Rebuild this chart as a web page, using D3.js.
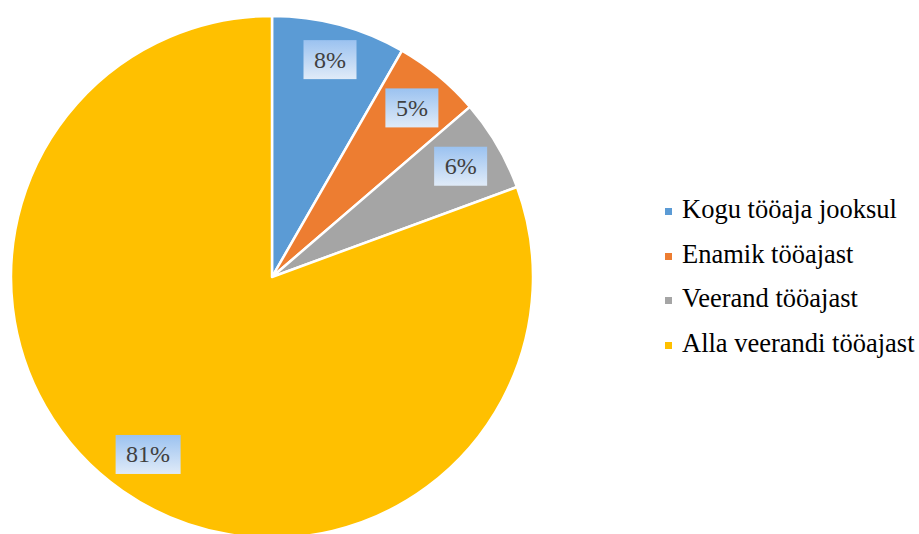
<!DOCTYPE html>
<html>
<head>
<meta charset="utf-8">
<script src="https://cdn.jsdelivr.net/npm/d3@7"></script>
<style>
  html, body { margin: 0; padding: 0; background: #fff; }
  svg { display: block; }
  text { font-family: "Liberation Serif", "Times New Roman", "DejaVu Serif", serif; }
</style>
</head>
<body>
<svg id="chart" width="919" height="534"></svg>
<script>
const categories = ["Kogu tööaja jooksul", "Enamik tööajast", "Veerand tööajast", "Alla veerandi tööajast"];
const values = [8.3, 5.4, 5.7, 80.6];
const labels = ["8%", "5%", "6%", "81%"];
const colors = ["#5B9BD5", "#ED7D31", "#A5A5A5", "#FFC000"];

const svg = d3.select("#chart");
const cx = 272, cy = 277, R = 261;

const defs = svg.append("defs");
const grad = defs.append("linearGradient").attr("id", "lblGrad")
  .attr("x1", 0).attr("y1", 0).attr("x2", 0).attr("y2", 1);
grad.append("stop").attr("offset", "0%").attr("stop-color", "#9BC2F0");
grad.append("stop").attr("offset", "100%").attr("stop-color", "#E0EBF8");

const data = categories.map((c, i) => ({ cat: c, value: values[i], label: labels[i], color: colors[i] }));
const pie = d3.pie().value(d => d.value).sort(null);
const arcs = pie(data);
const arc = d3.arc().innerRadius(0).outerRadius(R);

const g = svg.append("g").attr("transform", `translate(${cx},${cy})`);
g.selectAll("path").data(arcs).join("path")
  .attr("d", arc)
  .attr("fill", d => d.data.color)
  .attr("stroke", "#fff")
  .attr("stroke-width", 2.5)
  .attr("stroke-linejoin", "round");

// labels: inside end
const fontSize = 24;
const lg = g.append("g");
arcs.forEach(a => {
  const mid = (a.startAngle + a.endAngle) / 2;
  const dx = Math.sin(mid), dy = -Math.cos(mid);
  const tmp = lg.append("text")
    .attr("font-size", fontSize)
    .attr("fill", "#404040")
    .attr("text-anchor", "middle")
    .text(a.data.label);
  const w = tmp.node().getComputedTextLength();
  const bw = w + 21, bh = 39;
  const hx = bw / 2 * Math.sign(dx), hy = bh / 2 * Math.sign(dy);
  const dc = dx * hx + dy * hy;
  const Rc = 251.5;
  const t = -dc + Math.sqrt(dc * dc - (hx * hx + hy * hy) + Rc * Rc);
  const px = t * dx, py = t * dy;
  lg.insert("rect", "text")
    .attr("x", px - bw / 2).attr("y", py - bh / 2)
    .attr("width", bw).attr("height", bh)
    .attr("fill", "url(#lblGrad)");
  tmp.attr("x", px).attr("y", py + fontSize * 0.33);
  tmp.raise();
});

// legend
const legend = svg.append("g").attr("transform", "translate(665,0)");
const rowY = [212, 257, 301, 346];
data.forEach((d, i) => {
  legend.append("rect")
    .attr("x", 0).attr("y", rowY[i] - 4)
    .attr("width", 7).attr("height", 7)
    .attr("fill", d.color);
  legend.append("text")
    .attr("x", 17).attr("y", rowY[i] + 6)
    .attr("font-size", 26.5)
    .attr("fill", "#000")
    .text(d.cat);
});
</script>
</body>
</html>
